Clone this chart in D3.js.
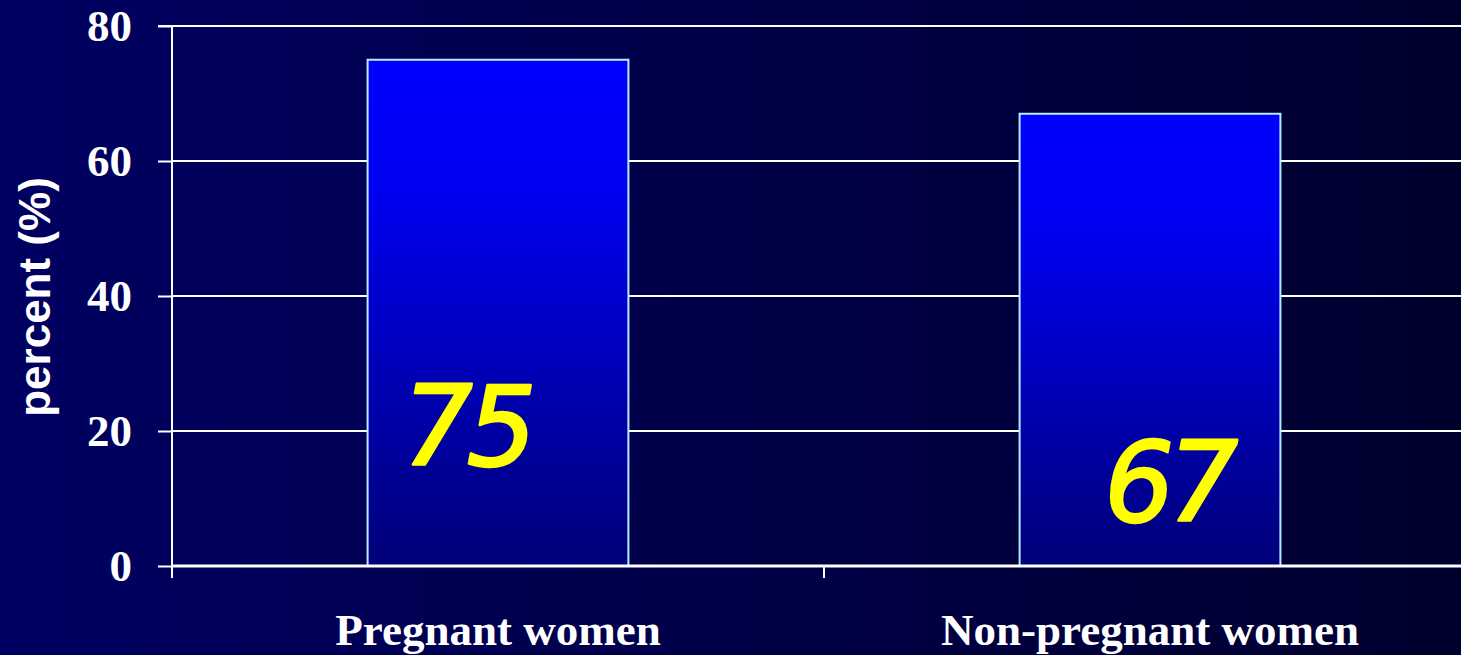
<!DOCTYPE html>
<html>
<head>
<meta charset="utf-8">
<script src="https://cdn.jsdelivr.net/npm/d3@7"></script>
<style>
  html, body { margin: 0; padding: 0; background: #000040; }
  svg { display: block; }
</style>
</head>
<body>
<svg id="chart" width="1461" height="655"></svg>
<script>
const categories = ["Pregnant women", "Non-pregnant women"];
const values = [75, 67];
const valueLabels = ["75", "67"];
const yTicks = [0, 20, 40, 60, 80];
const yTitle = "percent (%)";

(function () {
const W = 1461, H = 655;
const svg = d3.select("#chart");
const defs = svg.append("defs");

const bg = defs.append("linearGradient").attr("id", "bg").attr("x1", "0").attr("x2", "1").attr("y1", "0").attr("y2", "0");
bg.append("stop").attr("offset", "0%").attr("stop-color", "#000062");
bg.append("stop").attr("offset", "100%").attr("stop-color", "#00002e");

const bar = defs.append("linearGradient").attr("id", "barg").attr("x1", "0").attr("x2", "0").attr("y1", "0").attr("y2", "1");
bar.append("stop").attr("offset", "0%").attr("stop-color", "#0000ff");
bar.append("stop").attr("offset", "25%").attr("stop-color", "#0000f2");
bar.append("stop").attr("offset", "100%").attr("stop-color", "#000078");

svg.append("rect").attr("width", W).attr("height", H).attr("fill", "url(#bg)");

const pL = 172, pR = 1476, pT = 26, pB = 566;
const x = d3.scaleBand().domain(categories).range([pL, pR]).paddingInner(0.6).paddingOuter(0.3);
const y = d3.scaleLinear().domain([0, 80]).range([pB, pT]);

// gridlines
svg.append("g").selectAll("line").data(yTicks.filter(d => d > 0)).join("line")
  .attr("x1", pL).attr("x2", W).attr("y1", d => y(d)).attr("y2", d => y(d))
  .attr("stroke", "#ffffff").attr("stroke-width", 2.2);

// y axis
const yAxis = svg.append("g").attr("transform", `translate(${pL},0)`)
  .call(d3.axisLeft(y).tickValues(yTicks).tickSize(14).tickPadding(26).tickFormat(d3.format("d")));
yAxis.select(".domain").attr("stroke", "#fff").attr("stroke-width", 2).attr("d", `M-14,${pT}H0V${pB}`);
yAxis.selectAll(".tick line").attr("stroke", "#fff").attr("stroke-width", 2);
yAxis.selectAll(".tick text").attr("fill", "#fff")
  .style("font-family", "'Liberation Serif', 'Times New Roman', serif")
  .style("font-weight", "bold").style("font-size", "45px").attr("dy", "0.33em");

// bars
svg.append("g").selectAll("rect").data(values).join("rect")
  .attr("x", (d, i) => x(categories[i]))
  .attr("y", d => y(d))
  .attr("width", x.bandwidth())
  .attr("height", d => y(0) - y(d))
  .attr("fill", "url(#barg)")
  .attr("stroke", "#b0f0ff").attr("stroke-width", 2);

// x axis baseline + boundary ticks
svg.append("line").attr("x1", pL).attr("x2", W).attr("y1", pB).attr("y2", pB)
  .attr("stroke", "#fff").attr("stroke-width", 3);
const boundaries = categories.map((c, i) => pL + i * x.step());
svg.append("g").selectAll("line").data(boundaries).join("line")
  .attr("x1", d => d).attr("x2", d => d).attr("y1", pB).attr("y2", pB + 12)
  .attr("stroke", "#fff").attr("stroke-width", 2);

// x labels
svg.append("g").selectAll("text").data(categories).join("text")
  .attr("x", d => x(d) + x.bandwidth() / 2)
  .attr("y", 645)
  .attr("text-anchor", "middle")
  .attr("fill", "#fff")
  .style("font-family", "'Liberation Serif', 'Times New Roman', serif")
  .style("font-weight", "bold").style("font-size", "45px")
  .text(d => d);

// y title
svg.append("text")
  .attr("transform", `translate(50,297) rotate(-90)`)
  .attr("text-anchor", "middle")
  .attr("fill", "#fff")
  .style("font-family", "'Liberation Sans', Arial, sans-serif")
  .style("font-weight", "bold").style("font-size", "44px")
  .text(yTitle);

// handwritten-style value labels
const labelOffsets = [[-0.12, 0.8], [0.07, 0.9]];
svg.append("g").selectAll("text").data(values).join("text")
  .attr("x", (d, i) => x(categories[i]) + x.bandwidth() * (0.5 + labelOffsets[i][0]))
  .attr("y", (d, i) => y(d) + (y(0) - y(d)) * labelOffsets[i][1])
  .attr("text-anchor", "middle")
  .attr("fill", "#ffff00")
  .attr("stroke", "#ffff00")
  .attr("stroke-width", 2.5)
  .attr("stroke-linejoin", "round")
  .style("font-family", "'DejaVu Sans', sans-serif")
  .style("font-style", "oblique")
  .style("font-size", "110px")
  .style("letter-spacing", "-6px")
  .text((d, i) => valueLabels[i]);
})();
</script>
</body>
</html>
